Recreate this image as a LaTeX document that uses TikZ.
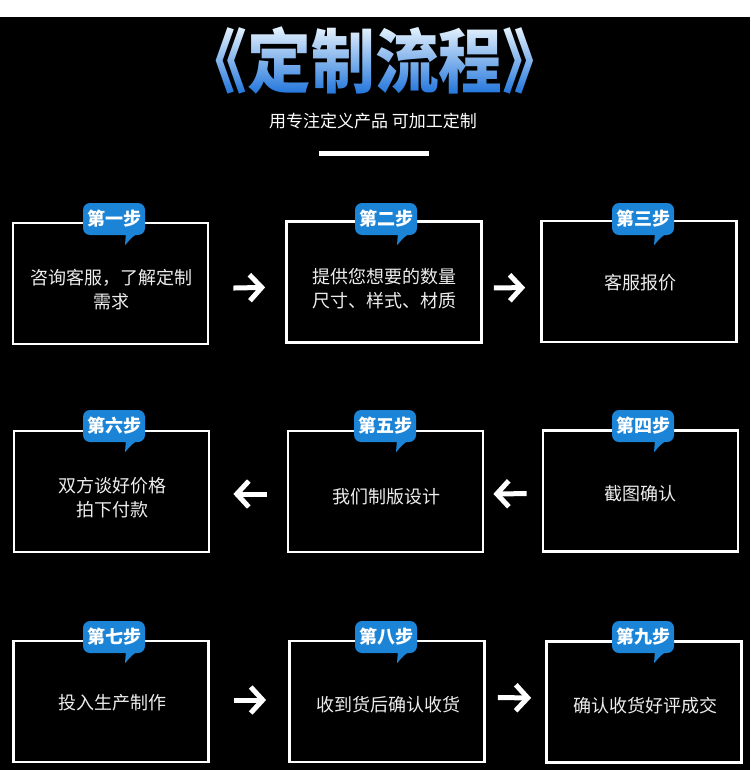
\documentclass[tikz,border=0pt]{standalone}
\usepackage{fontspec}
\setmainfont{Noto Sans CJK SC}
\usetikzlibrary{arrows.meta,calc}
\definecolor{badgeblue}{HTML}{1C84D6}
\definecolor{ttop}{HTML}{F4FBFF}
\definecolor{tmid}{HTML}{9ED2F8}
\definecolor{tbot}{HTML}{1670DA}
\definecolor{boxtext}{HTML}{EDEDED}
\newcommand\badgetail[1]{%
  \fill[badgeblue] ($(#1.south)+(12,-3)$) -- ($(#1.south)+(25,-3)$)
    .. controls ($(#1.south)+(18,2)$) .. ($(#1.south)+(11,10)$) -- cycle;}
\begin{document}
\begin{tikzpicture}[x=1pt,y=-1pt,
  titlefont/.style={font=\fontsize{70}{70}\selectfont\bfseries, xscale=0.91, inner sep=0, anchor=center},
  stepbox/.style={draw=white, line width=2.8pt, minimum width=195pt, minimum height=121pt, inner sep=0},
  steptext/.style={text=boxtext, font=\fontsize{18}{24}\selectfont, align=center, inner sep=0},
  badge/.style={fill=badgeblue, rounded corners=7pt, minimum width=62pt, minimum height=32pt, inner sep=0, text=white, font=\fontsize{18}{18}\selectfont\bfseries},
  flow/.style={draw=white, line width=5pt, -{Straight Barb[length=12pt,width=26pt]}},
]
\useasboundingbox (0,0) rectangle (750,770);
\fill[white] (0,0) rectangle (750,17);
\fill[black] (0,17) rectangle (750,770);

% title (light text, tinted by a multiplied gradient: black stays black)
\node[titlefont, text=ttop] (title) at (375,60) {《定制流程》};
\shade[blend mode=multiply, top color=white, middle color=tmid, bottom color=tbot]
  ($(title.north west)+(-4,-4)$) rectangle ($(title.south east)+(4,4)$);
\node[text=white, font=\fontsize{17}{17}\selectfont, inner sep=0] (subtitle) at (373,121) {用专注定义产品 可加工定制};
\fill[white] (319,151.5) rectangle (429,156.5);

% boxes
\node[stepbox] (b1) at (110.5,283.5) {};
\node[stepbox] (b2) at (384,282) {};
\node[stepbox] (b3) at (639,281.5) {};
\node[stepbox] (b6) at (111.5,491.5) {};
\node[stepbox] (b5) at (385.5,491.5) {};
\node[stepbox] (b4) at (640.5,491) {};
\node[stepbox] (b7) at (111,701.5) {};
\node[stepbox] (b8) at (387,701.5) {};
\node[stepbox] (b9) at (644,702) {};

% texts
\node[steptext] (t1) at (111,290) {咨询客服，了解定制\\需求};
\node[steptext] (t2) at (384,289) {提供您想要的数量\\尺寸、样式、材质};
\node[steptext] (t3) at (640,283) {客服报价};
\node[steptext] (t4) at (640,494) {截图确认};
\node[steptext] (t5) at (386,497) {我们制版设计};
\node[steptext] (t6) at (112,498) {双方谈好价格\\拍下付款};
\node[steptext] (t7) at (112,703) {投入生产制作};
\node[steptext] (t8) at (388,705) {收到货后确认收货};
\node[steptext] (t9) at (645,706) {确认收货好评成交};

% badges
\node[badge] (s1) at (114,219) {第一步};
\node[badge] (s2) at (386,219) {第二步};
\node[badge] (s3) at (643,219) {第三步};
\node[badge] (s6) at (114,426) {第六步};
\node[badge] (s5) at (385,426) {第五步};
\node[badge] (s4) at (643,426) {第四步};
\node[badge] (s7) at (114,637) {第七步};
\node[badge] (s8) at (386,637) {第八步};
\node[badge] (s9) at (643,637) {第九步};
\badgetail{s1}\badgetail{s2}\badgetail{s3}
\badgetail{s4}\badgetail{s5}\badgetail{s6}
\badgetail{s7}\badgetail{s8}\badgetail{s9}

% arrows
\draw[flow, shorten <=24pt, shorten >=20pt] ([yshift=-5pt]b1.east) -- ([yshift=-5pt]b2.west);
\draw[flow, shorten <=11pt, shorten >=15pt] ([yshift=-6pt]b2.east) -- ([yshift=-6pt]b3.west);
\draw[flow, shorten <=15pt, shorten >=9pt] ([yshift=-2.5pt]b4.west) -- ([yshift=-2.5pt]b5.east);
\draw[flow, shorten <=20pt, shorten >=23pt] ([yshift=-2.5pt]b5.west) -- ([yshift=-2.5pt]b6.east);
\draw[flow, shorten <=24pt, shorten >=22pt] ([yshift=1.5pt]b7.east) -- ([yshift=1.5pt]b8.west);
\draw[flow, shorten <=12pt, shorten >=14pt] ([yshift=4pt]b8.east) -- ([yshift=4pt]b9.west);
\end{tikzpicture}
\end{document}
